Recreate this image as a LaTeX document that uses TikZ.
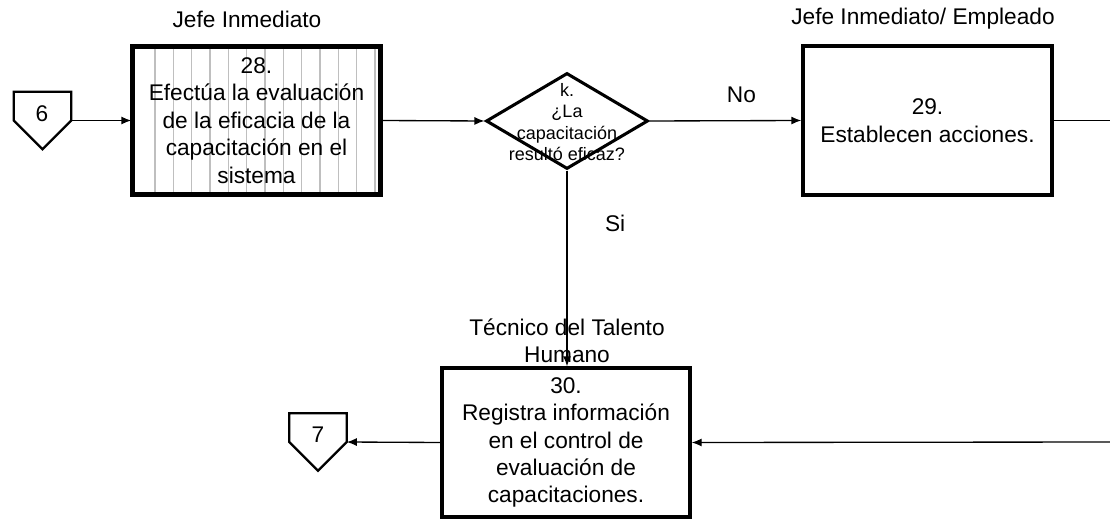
\documentclass[tikz,border=0pt]{standalone}
\usepackage{fontspec}
\setmainfont{Liberation Sans}
\usetikzlibrary{shapes.geometric,arrows.meta}

\tikzset{
  actbox/.style={rectangle, draw, line width=2.5pt, fill=white, inner sep=0pt, align=center,
    font=\fontsize{17}{20.6}\selectfont},
  decision/.style={diamond, draw, line width=2.3pt, inner sep=0pt},
  dectext/.style={align=center, font=\fontsize{13.5}{16}\selectfont, inner sep=0pt},
  lane/.style={align=center, font=\fontsize{17}{20.4}\selectfont, inner sep=0pt},
  offpage/.style={rectangle, inner sep=0pt, minimum width=42.75pt, minimum height=42.75pt},
  offtext/.style={font=\fontsize{17}{20}\selectfont, inner sep=0pt},
  flow/.style={line width=1pt, -{Latex[length=7.5pt,width=6pt]}},
  hatch/.style={gray!50, line width=1.2pt}
}

\begin{document}
\begin{tikzpicture}[x=0.75pt, y=-0.75pt]
  \useasboundingbox (0,0) rectangle (1110,524);

  % Lanes
  \node (lane_a) [lane] at (247,19) {Jefe Inmediato};
  \node (lane_b) [lane] at (923,19) {Jefe Inmediato/ Empleado};
  \node (lane_c) [lane] at (567,341) {Técnico del Talento\\Humano};

  % Off-page connector 6
  \node (c6) [offpage] at (42.5,120.5) {};
  \draw[line width=1.7pt, line join=miter] (c6.north west) -- (c6.north east) -- (c6.east) -- (c6.south) -- (c6.west) -- cycle;
  \node (c6t) [offtext] at (42,114) {6};

  % Activity 28 (hatched)
  \node (b28) [actbox, minimum width=185.25pt, minimum height=110.25pt] at (256.5,120.5) {};
  \foreach \i in {0,...,12}
    \draw[hatch] (155+18.33*\i,49) -- (155+18.33*\i,192);
  \draw[line width=2.5pt] (b28.north west) rectangle (b28.south east);
  \node (b28t) [actbox, draw=none, fill=none] at (b28.center)
    {28.\\Efectúa la evaluación\\de la eficacia de la\\capacitación en el\\sistema};

  % Decision k
  \node (k) [decision, minimum width=121.5pt, minimum height=72pt] at (567,121) {};
  \node (kt) [dectext] at (567,122) {k.\\¿La\\capacitación\\resultó eficaz?};

  % Activity 29
  \node (b29) [actbox, minimum width=186.75pt, minimum height=111.75pt] at (927.5,120.5)
    {29.\\Establecen acciones.};

  % Activity 30
  \node (b30) [actbox, minimum width=186pt, minimum height=111.75pt] at (566,442.5)
    {30.\\Registra información\\en el control de\\evaluación de\\capacitaciones.};

  % Off-page connector 7
  \node (c7) [offpage] at (318,442) {};
  \draw[line width=1.7pt, line join=miter] (c7.north west) -- (c7.north east) -- (c7.east) -- (c7.south) -- (c7.west) -- cycle;
  \node (c7t) [offtext] at (318,435) {7};

  % Loose ends at the right margin
  \coordinate (out29) at (1110,120.5);
  \coordinate (in30) at (1110,442);

  % Edges
  \draw[flow] (c6.east) -- (b28.west);
  \draw[flow] (b28.east) -- (k.west);
  \draw[flow] (k.east) -- node[lane, above=13pt, xshift=12pt] (no) {No} (b29.west);
  \draw[line width=1pt] (b29.east) -- (out29);
  \draw[flow] (k.south) -- node[lane, pos=0.27, right=28pt] (si) {Si} (k.south |- b30.north);
  \draw[flow] (in30) -- (b30.east);
  \draw[flow] (b30.west) -- (c7.east);
\end{tikzpicture}
\end{document}
